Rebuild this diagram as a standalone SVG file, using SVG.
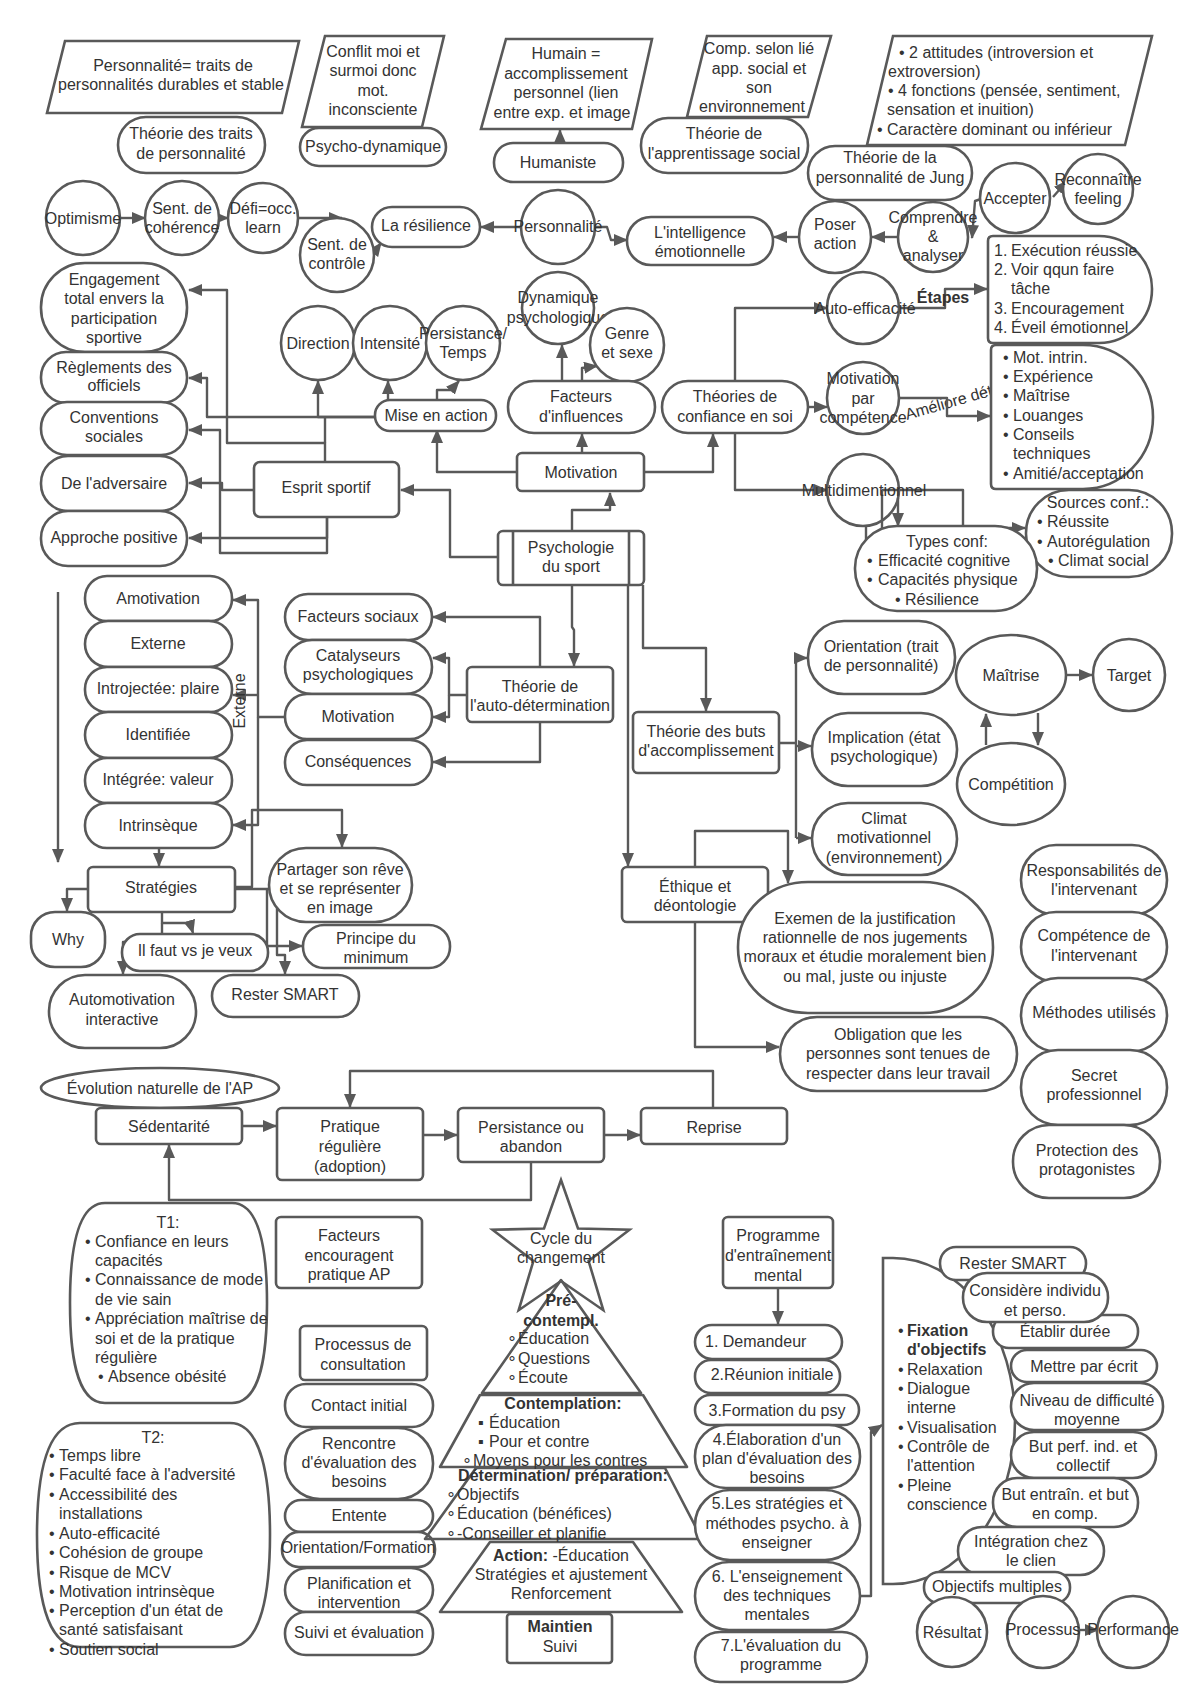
<svg xmlns="http://www.w3.org/2000/svg" width="1200" height="1697" viewBox="0 0 1200 1697">
<defs>
<style>
.s{fill:#fff;stroke:#595959;stroke-width:2.6}
.c{fill:none;stroke:#595959;stroke-width:2.4;stroke-linejoin:round}
.a{marker-end:url(#ah)}
text{font-family:"Liberation Sans",Arial,sans-serif;font-size:16px;fill:#333}
.m{text-anchor:middle}
.b{font-weight:bold}
</style>
<marker id="ah" markerWidth="14" markerHeight="12" refX="13" refY="6" orient="auto" markerUnits="userSpaceOnUse"><path d="M0,0 L14,6 L0,12 z" fill="#595959"/></marker>
</defs>
<rect width="1200" height="1697" fill="#fff"/>

<g id="connectors">
<path class="c a" d="M560,143 L560,130"/>
<path class="c a" d="M120,218 L145,218"/>
<path class="c a" d="M219,218 L228,218"/>
<path class="c a" d="M298,218 L342,218"/>
<path class="c a" d="M370,258 L381,243"/>
<path class="c a" d="M521,227 L481,227"/>
<path class="c a" d="M595,227 L607,227 L611,240 L627,240"/>
<path class="c a" d="M799,237 L774,237"/>
<path class="c a" d="M898,237 L872,237"/>
<path class="c a" d="M981,199 L975,201 L972,238"/>
<path class="c a" d="M1053,197 L1067,181"/>
<path class="c a" d="M735,381 L735,308 L827,308"/>
<path class="c a" d="M899,308 L945,308 L945,289 L987,289"/>
<text class="m b" x="943" y="303">Étapes</text>
<path class="c a" d="M808,407 L827,407"/>
<text x="907" y="420" transform="rotate(-16 907 420)">Améliore dét</text>
<path class="c a" d="M899,398 L947,398 L947,416 L990,416"/>
<path class="c a" d="M735,433 L735,490 L827,490"/>
<path class="c a" d="M882,490 L963,490 L963,528 L1025,528"/>
<path class="c a" d="M898,498 L898,526"/>
<path class="c" d="M866,526 L866,562 L882,562 L882,490"/>
<path class="c a" d="M517,472 L437,472 L437,430"/>
<path class="c a" d="M582,453 L582,434"/>
<path class="c a" d="M644,472 L713,472 L713,434"/>
<path class="c a" d="M562,381 L562,345"/>
<path class="c a" d="M582,381 L582,368 L597,366"/>
<path class="c a" d="M388,401 L388,381"/>
<path class="c a" d="M437,401 L437,390 L451,390 L459,381"/>
<path class="c a" d="M375,417 L318,417 L318,381"/>
<path class="c a" d="M375,417 L207,417 L207,378 L189,378"/>
<path class="c a" d="M325,462 L325,443 L227,443 L227,290 L189,290"/>
<path class="c" d="M325,443 L325,417"/>
<path class="c a" d="M254,490 L222,490 L222,483 L189,483"/>
<path class="c a" d="M327,517 L327,553 L220,553 L220,430 L189,430"/>
<path class="c a" d="M327,517 L327,538 L189,538"/>
<path class="c a" d="M572,531 L572,510 L610,510 L610,493"/>
<path class="c a" d="M498,557 L450,557 L450,490 L401,490"/>
<path class="c a" d="M572,585 L572,627 L574,630 L574,666"/>
<path class="c a" d="M643,585 L643,648 L706,648 L706,711"/>
<path class="c a" d="M628,585 L628,866"/>
<path class="c a" d="M540,667 L540,617 L433,617"/>
<path class="c a" d="M467,695 L449,695 L449,658 L433,658"/>
<path class="c a" d="M449,695 L449,717 L433,717"/>
<path class="c a" d="M540,722 L540,762 L433,762"/>
<path class="c a" d="M285,717 L258,717 L258,600 L233,600"/>
<path class="c a" d="M258,695 L233,695"/>
<path class="c a" d="M258,717 L258,825 L233,825"/>
<text class="m" x="0" y="0" transform="translate(245 701) rotate(-90)">Externe</text>
<path class="c a" d="M58,592 L58,862"/>
<path class="c a" d="M159,848 L159,866"/>
<path class="c a" d="M235,887 L252,887 L252,810 L342,810 L342,847"/>
<path class="c a" d="M88,889 L67,889 L67,911"/>
<path class="c a" d="M162,912 L162,923 L190,923 L193,933"/>
<path class="c a" d="M162,923 L162,942 L123,942 L123,974"/>
<path class="c a" d="M235,889 L267,889 L267,946 L302,946"/>
<path class="c a" d="M267,889 L277,889 L277,955 L285,955 L285,974"/>
<path class="c" d="M779,743 L796,743 M796,658 L796,838"/>
<path class="c a" d="M796,658 L807,658"/>
<path class="c a" d="M796,746 L811,746"/>
<path class="c a" d="M796,838 L811,838"/>
<path class="c a" d="M1066,675 L1092,675"/>
<path class="c a" d="M986,745 L986,714"/>
<path class="c a" d="M1038,713 L1038,745"/>
<path class="c a" d="M695,867 L695,831 L788,831 L788,883"/>
<path class="c a" d="M695,922 L695,1047 L779,1047"/>
<path class="c a" d="M242,1126 L276,1126"/>
<path class="c a" d="M423,1135 L457,1135"/>
<path class="c a" d="M604,1135 L640,1135"/>
<path class="c a" d="M713,1108 L713,1071 L350,1071 L350,1107"/>
<path class="c a" d="M531,1162 L531,1200 L169,1200 L169,1145"/>
<path class="c a" d="M778,1288 L778,1324"/>
<path class="c a" d="M860,1596 L871,1596 L871,1432 L882,1425"/>
<path class="c a" d="M1079,1630 L1098,1630"/>
</g>

<g id="n-perso-def"><polygon class="s" points="65,41 299,41 282,113 47,113"/><text class="m"><tspan x="173" y="71">Personnalité= traits de</tspan><tspan x="171" y="90">personnalités durables et stable</tspan></text></g>
<g id="n-traits"><rect class="s" x="118" y="117" width="147" height="56" rx="28"/><text class="m"><tspan x="191" y="139">Théorie des traits</tspan><tspan x="191" y="159">de personnalité</tspan></text></g>
<g id="n-conflit"><polygon class="s" points="325,36 444,36 422,127 302,127"/><text class="m"><tspan x="373" y="57">Conflit moi et</tspan><tspan x="373" y="76">surmoi donc</tspan><tspan x="373" y="96">mot.</tspan><tspan x="373" y="115">inconsciente</tspan></text></g>
<g id="n-psychodyn"><rect class="s" x="300" y="128" width="146" height="38" rx="19"/><text class="m" x="373" y="152">Psycho-dynamique</text></g>
<g id="n-humain"><polygon class="s" points="506,39 652,39 632,129 481,129"/><text class="m"><tspan x="566" y="59">Humain =</tspan><tspan x="566" y="79">accomplissement</tspan><tspan x="566" y="98">personnel (lien</tspan><tspan x="562" y="118">entre exp. et image</tspan></text></g>
<g id="n-humaniste"><rect class="s" x="494" y="143" width="129" height="39" rx="19"/><text class="m" x="558" y="168">Humaniste</text></g>
<g id="n-comp"><polygon class="s" points="707,36 831,36 808,117 687,117"/><text class="m"><tspan x="759" y="54">Comp. selon lié</tspan><tspan x="759" y="74">app. social et</tspan><tspan x="759" y="93">son</tspan><tspan x="752" y="112">environnement</tspan></text></g>
<g id="n-appsocial"><rect class="s" x="641" y="118" width="167" height="55" rx="27"/><text class="m"><tspan x="724" y="139">Théorie de</tspan><tspan x="724" y="159">l'apprentissage social</tspan></text></g>
<g id="n-jungpara"><polygon class="s" points="893,36 1152,36 1125,145 867,145"/><text><tspan x="899" y="58">• 2 attitudes (introversion et</tspan><tspan x="888" y="77">extroversion)</tspan><tspan x="888" y="96">• 4 fonctions (pensée, sentiment,</tspan><tspan x="887" y="115">sensation et inuition)</tspan><tspan x="877" y="135">• Caractère dominant  ou inférieur</tspan></text></g>
<g id="n-jung"><rect class="s" x="808" y="146" width="164" height="54" rx="27"/><text class="m"><tspan x="890" y="163">Théorie de la</tspan><tspan x="890" y="183">personnalité de Jung</tspan></text></g>
<g id="n-accepter"><circle class="s" cx="1015" cy="198" r="35"/><text class="m" x="1015" y="204">Accepter</text></g>
<g id="n-reconnaitre"><circle class="s" cx="1098" cy="189" r="35"/><text class="m"><tspan x="1098" y="185">Reconnaître</tspan><tspan x="1098" y="204">feeling</tspan></text></g>
<g id="n-comprendre"><circle class="s" cx="933" cy="237" r="35"/><text class="m"><tspan x="933" y="223">Comprendre</tspan><tspan x="933" y="242">&amp;</tspan><tspan x="933" y="261">analyser</tspan></text></g>
<g id="n-poser"><circle class="s" cx="835" cy="237" r="36"/><text class="m"><tspan x="835" y="230">Poser</tspan><tspan x="835" y="249">action</tspan></text></g>
<g id="n-intel"><rect class="s" x="627" y="217" width="146" height="48" rx="24"/><text class="m"><tspan x="700" y="238">L'intelligence</tspan><tspan x="700" y="257">émotionnelle</tspan></text></g>
<g id="n-personnalite"><circle class="s" cx="558" cy="227" r="37"/><text class="m" x="558" y="232">Personnalité</text></g>
<g id="n-resilience"><rect class="s" x="372" y="207" width="108" height="40" rx="20"/><text class="m" x="426" y="231">La résilience</text></g>
<g id="n-controle"><circle class="s" cx="337" cy="255" r="37"/><text class="m"><tspan x="337" y="250">Sent. de</tspan><tspan x="337" y="269">contrôle</tspan></text></g>
<g id="n-defi"><circle class="s" cx="263" cy="218" r="35"/><text class="m"><tspan x="263" y="214">Défi=occ.</tspan><tspan x="263" y="233">learn</tspan></text></g>
<g id="n-coherence"><circle class="s" cx="182" cy="218" r="37"/><text class="m"><tspan x="182" y="214">Sent. de</tspan><tspan x="182" y="233">cohérence</tspan></text></g>
<g id="n-optimisme"><circle class="s" cx="83" cy="218" r="37"/><text class="m" x="83" y="224">Optimisme</text></g>

<g id="n-engagement"><rect class="s" x="41" y="263" width="146" height="89" rx="44"/><text class="m"><tspan x="114" y="285">Engagement</tspan><tspan x="114" y="304">total envers la</tspan><tspan x="114" y="324">participation</tspan><tspan x="114" y="343">sportive</tspan></text></g>
<g id="n-reglements"><rect class="s" x="41" y="352" width="146" height="51" rx="25"/><text class="m"><tspan x="114" y="373">Règlements des</tspan><tspan x="114" y="391">officiels</tspan></text></g>
<g id="n-conventions"><rect class="s" x="41" y="402" width="146" height="53" rx="26"/><text class="m"><tspan x="114" y="423">Conventions</tspan><tspan x="114" y="442">sociales</tspan></text></g>
<g id="n-adversaire"><rect class="s" x="41" y="456" width="146" height="55" rx="27"/><text class="m" x="114" y="489">De l'adversaire</text></g>
<g id="n-approche"><rect class="s" x="41" y="511" width="146" height="55" rx="27"/><text class="m" x="114" y="543">Approche positive</text></g>
<g id="n-esprit"><rect class="s" x="254" y="462" width="145" height="55" rx="6"/><text class="m" x="326" y="493">Esprit sportif</text></g>

<g id="n-direction"><circle class="s" cx="318" cy="343" r="37"/><text class="m" x="318" y="349">Direction</text></g>
<g id="n-intensite"><circle class="s" cx="390" cy="343" r="37"/><text class="m" x="390" y="349">Intensité</text></g>
<g id="n-persistance"><circle class="s" cx="463" cy="343" r="37"/><text class="m"><tspan x="463" y="339">Persistance/</tspan><tspan x="463" y="358">Temps</tspan></text></g>
<g id="n-mise"><rect class="s" x="375" y="400" width="121" height="31" rx="15"/><text class="m" x="436" y="421">Mise en action</text></g>
<g id="n-dynamique"><circle class="s" cx="558" cy="308" r="36"/><text class="m"><tspan x="558" y="303">Dynamique</tspan><tspan x="558" y="323">psychologique</tspan></text></g>
<g id="n-genre"><circle class="s" cx="627" cy="345" r="37"/><text class="m"><tspan x="627" y="339">Genre</tspan><tspan x="627" y="358">et sexe</tspan></text></g>
<g id="n-facteurs-infl"><rect class="s" x="508" y="381" width="147" height="52" rx="26"/><text class="m"><tspan x="581" y="402">Facteurs</tspan><tspan x="581" y="422">d'influences</tspan></text></g>
<g id="n-theories-conf"><rect class="s" x="662" y="381" width="146" height="52" rx="26"/><text class="m"><tspan x="735" y="402">Théories de</tspan><tspan x="735" y="422">confiance en soi</tspan></text></g>
<g id="n-autoeff"><circle class="s" cx="863" cy="308" r="36"/><text class="m" x="865" y="314">Auto-efficacité</text></g>
<g id="n-etapes"><path class="s" d="M993 236 H1099 A53 53 0 0 1 1152 289 A53 54 0 0 1 1099 343 H993 Q988 343 988 338 V241 Q988 236 993 236 Z"/><text><tspan x="994" y="256">1.</tspan><tspan x="1011" y="256">Exécution réussie</tspan><tspan x="994" y="275">2.</tspan><tspan x="1011" y="275">Voir qqun faire</tspan><tspan x="1011" y="294">tâche</tspan><tspan x="994" y="314">3.</tspan><tspan x="1011" y="314">Encouragement</tspan><tspan x="994" y="333">4.</tspan><tspan x="1011" y="333">Éveil émotionnel</tspan></text></g>
<g id="n-sources-list"><path class="s" d="M996 345 H1083 A70 72 0 0 1 1153 417 A70 72 0 0 1 1083 489 H996 Q991 489 991 484 V350 Q991 345 996 345 Z"/><text><tspan x="1003" y="363">•</tspan><tspan x="1013" y="363">Mot. intrin.</tspan><tspan x="1003" y="382">•</tspan><tspan x="1013" y="382">Expérience</tspan><tspan x="1003" y="401">•</tspan><tspan x="1013" y="401">Maîtrise</tspan><tspan x="1003" y="421">•</tspan><tspan x="1013" y="421">Louanges</tspan><tspan x="1003" y="440">•</tspan><tspan x="1013" y="440">Conseils</tspan><tspan x="1013" y="459">techniques</tspan><tspan x="1003" y="479">•</tspan><tspan x="1013" y="479">Amitié/acceptation</tspan></text></g>
<g id="n-motcomp"><circle class="s" cx="863" cy="398" r="36"/><text class="m"><tspan x="863" y="384">Motivation</tspan><tspan x="863" y="404">par</tspan><tspan x="863" y="423">compétence</tspan></text></g>
<g id="n-multi"><circle class="s" cx="863" cy="490" r="36" style="fill:none"/><text class="m" x="864" y="496">Multidimentionnel</text></g>
<g id="n-sources"><rect class="s" x="1026" y="490" width="146" height="87" rx="43"/><text><tspan x="1098" y="508" text-anchor="middle">Sources conf.:</tspan><tspan x="1037" y="527">•</tspan><tspan x="1047" y="527">Réussite</tspan><tspan x="1037" y="547">•</tspan><tspan x="1047" y="547">Autorégulation</tspan><tspan x="1048" y="566">•</tspan><tspan x="1058" y="566">Climat social</tspan></text></g>
<g id="n-types"><rect class="s" x="855" y="526" width="182" height="85" rx="42"/><text class="m" x="947" y="547">Types conf:</text><text><tspan x="867" y="566">•</tspan><tspan x="878" y="566">Efficacité cognitive</tspan><tspan x="867" y="585">•</tspan><tspan x="878" y="585">Capacités physique</tspan><tspan x="895" y="605">•</tspan><tspan x="905" y="605">Résilience</tspan></text></g>

<g id="n-motivation"><rect class="s" x="517" y="453" width="127" height="38" rx="5"/><text class="m" x="581" y="478">Motivation</text></g>
<g id="n-psycho"><rect class="s" x="498" y="531" width="146" height="54" rx="5"/><line class="s" x1="513" y1="531" x2="513" y2="585"/><line class="s" x1="629" y1="531" x2="629" y2="585"/><text class="m"><tspan x="571" y="553">Psychologie</tspan><tspan x="571" y="572">du sport</tspan></text></g>
<g id="n-autodet"><rect class="s" x="467" y="667" width="146" height="55" rx="5"/><text class="m"><tspan x="540" y="692">Théorie de</tspan><tspan x="540" y="711">l'auto-détermination</tspan></text></g>
<g id="n-fsociaux"><rect class="s" x="285" y="594" width="147" height="46" rx="23"/><text class="m" x="358" y="622">Facteurs sociaux</text></g>
<g id="n-catalyseurs"><rect class="s" x="285" y="640" width="147" height="54" rx="27"/><text class="m"><tspan x="358" y="661">Catalyseurs</tspan><tspan x="358" y="680">psychologiques</tspan></text></g>
<g id="n-motsdt"><rect class="s" x="285" y="694" width="147" height="45" rx="22"/><text class="m" x="358" y="722">Motivation</text></g>
<g id="n-consequences"><rect class="s" x="285" y="740" width="147" height="45" rx="22"/><text class="m" x="358" y="767">Conséquences</text></g>
<g id="n-amotivation"><rect class="s" x="85" y="576" width="147" height="45" rx="22"/><text class="m" x="158" y="604">Amotivation</text></g>
<g id="n-externe"><rect class="s" x="85" y="621" width="147" height="46" rx="23"/><text class="m" x="158" y="649">Externe</text></g>
<g id="n-introjectee"><rect class="s" x="85" y="667" width="147" height="45" rx="22"/><text class="m" x="158" y="694">Introjectée: plaire</text></g>
<g id="n-identifiee"><rect class="s" x="85" y="712" width="147" height="46" rx="23"/><text class="m" x="158" y="740">Identifiée</text></g>
<g id="n-integree"><rect class="s" x="85" y="758" width="147" height="45" rx="22"/><text class="m" x="158" y="785">Intégrée: valeur</text></g>
<g id="n-intrinseque"><rect class="s" x="85" y="803" width="147" height="45" rx="22"/><text class="m" x="158" y="831">Intrinsèque</text></g>
<g id="n-strategies"><rect class="s" x="88" y="867" width="147" height="45" rx="5"/><text class="m" x="161" y="893">Stratégies</text></g>
<g id="n-partager"><rect class="s" x="269" y="848" width="143" height="74" rx="37"/><text class="m"><tspan x="340" y="875">Partager son rêve</tspan><tspan x="340" y="894">et se représenter</tspan><tspan x="340" y="913">en image</tspan></text></g>
<g id="n-why"><rect class="s" x="31" y="912" width="74" height="55" rx="24"/><text class="m" x="68" y="945">Why</text></g>
<g id="n-ilfaut"><rect class="s" x="122" y="934" width="146" height="37" rx="18"/><text class="m" x="195" y="956">Il faut vs je veux</text></g>
<g id="n-automot"><rect class="s" x="49" y="975" width="147" height="73" rx="36"/><text class="m"><tspan x="122" y="1005">Automotivation</tspan><tspan x="122" y="1025">interactive</tspan></text></g>
<g id="n-principe"><rect class="s" x="303" y="925" width="147" height="43" rx="21"/><text class="m"><tspan x="376" y="944">Principe du</tspan><tspan x="376" y="963">minimum</tspan></text></g>
<g id="n-smart1"><rect class="s" x="212" y="975" width="147" height="42" rx="21"/><text class="m" x="285" y="1000">Rester SMART</text></g>

<g id="n-buts"><rect class="s" x="633" y="712" width="146" height="61" rx="5"/><text class="m"><tspan x="706" y="737">Théorie des buts</tspan><tspan x="706" y="756">d'accomplissement</tspan></text></g>
<g id="n-orientation"><rect class="s" x="808" y="621" width="147" height="73" rx="36"/><text class="m"><tspan x="881" y="652">Orientation (trait</tspan><tspan x="881" y="671">de personnalité)</tspan></text></g>
<g id="n-implication"><rect class="s" x="812" y="713" width="145" height="73" rx="36"/><text class="m"><tspan x="884" y="743">Implication (état</tspan><tspan x="884" y="762">psychologique)</tspan></text></g>
<g id="n-climat"><rect class="s" x="812" y="803" width="145" height="72" rx="36"/><text class="m"><tspan x="884" y="824">Climat</tspan><tspan x="884" y="843">motivationnel</tspan><tspan x="884" y="863">(environnement)</tspan></text></g>
<g id="n-maitrise"><ellipse class="s" cx="1011" cy="675" rx="55" ry="40"/><text class="m" x="1011" y="681">Maîtrise</text></g>
<g id="n-target"><circle class="s" cx="1129" cy="675" r="36"/><text class="m" x="1129" y="681">Target</text></g>
<g id="n-competition"><ellipse class="s" cx="1011" cy="784" rx="54" ry="41"/><text class="m" x="1011" y="790">Compétition</text></g>
<g id="n-ethique"><rect class="s" x="622" y="867" width="146" height="55" rx="5"/><text class="m"><tspan x="695" y="892">Éthique et</tspan><tspan x="695" y="911">déontologie</tspan></text></g>
<g id="n-exemen"><rect class="s" x="738" y="882" width="255" height="131" rx="70" ry="65"/><text class="m"><tspan x="865" y="924">Exemen de la justification</tspan><tspan x="865" y="943">rationnelle de nos jugements</tspan><tspan x="865" y="962">moraux et étudie moralement bien</tspan><tspan x="865" y="982">ou mal, juste ou injuste</tspan></text></g>
<g id="n-obligation"><rect class="s" x="780" y="1017" width="237" height="74" rx="37"/><text class="m"><tspan x="898" y="1040">Obligation que les</tspan><tspan x="898" y="1059">personnes sont tenues de</tspan><tspan x="898" y="1079">respecter dans leur travail</tspan></text></g>
<g id="n-resp"><rect class="s" x="1021" y="845" width="146" height="70" rx="35"/><text class="m"><tspan x="1094" y="876">Responsabilités de</tspan><tspan x="1094" y="895">l'intervenant</tspan></text></g>
<g id="n-competence"><rect class="s" x="1021" y="912" width="146" height="70" rx="35"/><text class="m"><tspan x="1094" y="941">Compétence de</tspan><tspan x="1094" y="961">l'intervenant</tspan></text></g>
<g id="n-methodes"><rect class="s" x="1021" y="978" width="146" height="74" rx="37"/><text class="m" x="1094" y="1018">Méthodes utilisés</text></g>
<g id="n-secret"><rect class="s" x="1021" y="1050" width="146" height="75" rx="37"/><text class="m"><tspan x="1094" y="1081">Secret</tspan><tspan x="1094" y="1100">professionnel</tspan></text></g>
<g id="n-protection"><rect class="s" x="1013" y="1125" width="147" height="73" rx="36"/><text class="m"><tspan x="1087" y="1156">Protection des</tspan><tspan x="1087" y="1175">protagonistes</tspan></text></g>

<g id="n-evolution"><ellipse class="s" cx="160" cy="1088" rx="119" ry="20"/><text class="m" x="160" y="1094">Évolution naturelle de l'AP</text></g>
<g id="n-sedentarite"><rect class="s" x="96" y="1108" width="146" height="36" rx="5"/><text class="m" x="169" y="1132">Sédentarité</text></g>
<g id="n-pratique"><rect class="s" x="277" y="1108" width="146" height="72" rx="5"/><text class="m"><tspan x="350" y="1132">Pratique</tspan><tspan x="350" y="1152">régulière</tspan><tspan x="350" y="1172">(adoption)</tspan></text></g>
<g id="n-persist-ab"><rect class="s" x="458" y="1108" width="146" height="54" rx="5"/><text class="m"><tspan x="531" y="1133">Persistance ou</tspan><tspan x="531" y="1152">abandon</tspan></text></g>
<g id="n-reprise"><rect class="s" x="641" y="1108" width="146" height="36" rx="5"/><text class="m" x="714" y="1133">Reprise</text></g>

<g id="n-t1"><path class="s" d="M105 1203 H232 C262 1203 267 1260 267 1303 C267 1350 262 1403 232 1403 H105 C75 1403 70 1350 70 1303 C70 1260 75 1203 105 1203 Z"/><text class="m" x="168" y="1228">T1:</text><text><tspan x="85" y="1247">•</tspan><tspan x="95" y="1247">Confiance en leurs</tspan><tspan x="95" y="1266">capacités</tspan><tspan x="85" y="1285">•</tspan><tspan x="95" y="1285">Connaissance de mode</tspan><tspan x="95" y="1305">de vie sain</tspan><tspan x="85" y="1324">•</tspan><tspan x="95" y="1324">Appréciation maîtrise de</tspan><tspan x="95" y="1344">soi et de la pratique</tspan><tspan x="95" y="1363">régulière</tspan><tspan x="98" y="1382">•</tspan><tspan x="108" y="1382">Absence obésité</tspan></text></g>
<g id="n-t2"><path class="s" d="M80 1423 H230 C262 1423 270 1480 270 1535 C270 1590 262 1647 230 1647 H80 C45 1647 37 1590 37 1535 C37 1480 45 1423 80 1423 Z"/><text class="m" x="153" y="1443">T2:</text><text><tspan x="49" y="1461">•</tspan><tspan x="59" y="1461">Temps libre</tspan><tspan x="49" y="1480">•</tspan><tspan x="59" y="1480">Faculté face à l'adversité</tspan><tspan x="49" y="1500">•</tspan><tspan x="59" y="1500">Accessibilité des</tspan><tspan x="59" y="1519">installations</tspan><tspan x="49" y="1539">•</tspan><tspan x="59" y="1539">Auto-efficacité</tspan><tspan x="49" y="1558">•</tspan><tspan x="59" y="1558">Cohésion de groupe</tspan><tspan x="49" y="1578">•</tspan><tspan x="59" y="1578">Risque de MCV</tspan><tspan x="49" y="1597">•</tspan><tspan x="59" y="1597">Motivation intrinsèque</tspan><tspan x="49" y="1616">•</tspan><tspan x="59" y="1616">Perception d'un état de</tspan><tspan x="59" y="1635">santé satisfaisant</tspan><tspan x="49" y="1655">•</tspan><tspan x="59" y="1655">Soutien social</tspan></text></g>
<g id="n-facteurs-ap"><rect class="s" x="276" y="1217" width="146" height="71" rx="5"/><text class="m"><tspan x="349" y="1241">Facteurs</tspan><tspan x="349" y="1261">encouragent</tspan><tspan x="349" y="1280">pratique AP</tspan></text></g>
<g id="n-processus-consult"><rect class="s" x="300" y="1326" width="127" height="54" rx="5"/><text class="m"><tspan x="363" y="1350">Processus de</tspan><tspan x="363" y="1370">consultation</tspan></text></g>
<g id="n-contact"><rect class="s" x="285" y="1384" width="148" height="43" rx="21"/><text class="m" x="359" y="1411">Contact initial</text></g>
<g id="n-rencontre"><rect class="s" x="285" y="1428" width="148" height="71" rx="35"/><text class="m"><tspan x="359" y="1449">Rencontre</tspan><tspan x="359" y="1468">d'évaluation des</tspan><tspan x="359" y="1487">besoins</tspan></text></g>
<g id="n-entente"><rect class="s" x="285" y="1500" width="148" height="32" rx="16"/><text class="m" x="359" y="1521">Entente</text></g>
<g id="n-orientform"><rect class="s" x="282" y="1532" width="153" height="35" rx="17"/><text class="m" x="358" y="1553">Orientation/Formation</text></g>
<g id="n-planif"><rect class="s" x="285" y="1568" width="148" height="44" rx="22"/><text class="m"><tspan x="359" y="1589">Planification et</tspan><tspan x="359" y="1608">intervention</tspan></text></g>
<g id="n-suivi"><rect class="s" x="285" y="1612" width="148" height="43" rx="21"/><text class="m" x="359" y="1638">Suivi et évaluation</text></g>

<g id="n-cycle"><polygon class="s" points="561,1180 578,1228.5 629.5,1229.8 588.6,1261 603.3,1310.2 561,1281 518.7,1310.2 533.4,1261 492.5,1229.8 544,1228.5"/><text class="m"><tspan x="561" y="1244">Cycle du</tspan><tspan x="561" y="1263">changement</tspan></text></g>
<g id="n-pyramide">
<path class="c" style="stroke-width:2.6" d="M561,1280 L641,1393 L482,1393 Z"/>
<path class="c" style="stroke-width:2.6" d="M480,1395 L643,1395 L687,1467 L440,1467 Z"/>
<path class="c" style="stroke-width:2.6" d="M476,1468 L665,1468 L702,1539 L425,1539 Z"/>
<path class="c" style="stroke-width:2.6" d="M490,1542 L633,1542 L682,1612 L440,1612 Z"/>
<rect class="s" x="507" y="1614" width="105" height="49" rx="3"/>
<text class="m b"><tspan x="561" y="1306">Pré-</tspan><tspan x="561" y="1326">contempl.</tspan></text>
<text><tspan x="507" y="1344">∘</tspan><tspan x="518" y="1344">Éducation</tspan><tspan x="507" y="1364">∘</tspan><tspan x="518" y="1364">Questions</tspan><tspan x="507" y="1383">∘</tspan><tspan x="518" y="1383">Écoute</tspan></text>
<text class="m b" x="563" y="1409">Contemplation:</text>
<text><tspan x="478" y="1428">▪</tspan><tspan x="489" y="1428">Éducation</tspan><tspan x="478" y="1447">▪</tspan><tspan x="489" y="1447">Pour et contre</tspan><tspan x="462" y="1466">∘</tspan><tspan x="473" y="1466">Moyens pour les contres</tspan></text>
<text class="m b" x="563" y="1481">Détermination/ préparation:</text>
<text><tspan x="446" y="1500">∘</tspan><tspan x="457" y="1500">Objectifs</tspan><tspan x="446" y="1519">∘</tspan><tspan x="457" y="1519">Éducation (bénéfices)</tspan><tspan x="446" y="1539">∘</tspan><tspan x="457" y="1539">-Conseiller et planifie</tspan></text>
<text class="m" x="561" y="1561"><tspan class="b">Action:</tspan> -Éducation</text>
<text class="m"><tspan x="561" y="1580">Stratégies et ajustement</tspan><tspan x="561" y="1599">Renforcement</tspan></text>
<text class="m"><tspan class="b" x="560" y="1632">Maintien</tspan><tspan x="560" y="1652">Suivi</tspan></text>
</g>

<g id="n-programme"><rect class="s" x="723" y="1217" width="110" height="71" rx="5"/><text class="m"><tspan x="778" y="1241">Programme</tspan><tspan x="778" y="1261">d'entraînement</tspan><tspan x="778" y="1281">mental</tspan></text></g>
<g id="n-p1"><rect class="s" x="695" y="1325" width="147" height="34" rx="17"/><text x="705" y="1347">1. Demandeur</text></g>
<g id="n-p2"><rect class="s" x="695" y="1360" width="145" height="33" rx="16"/><text class="m" x="772" y="1380">2.Réunion initiale</text></g>
<g id="n-p3"><rect class="s" x="695" y="1395" width="164" height="30" rx="15"/><text class="m" x="777" y="1416">3.Formation du psy</text></g>
<g id="n-p4"><rect class="s" x="695" y="1425" width="165" height="63" rx="31"/><text class="m"><tspan x="777" y="1445">4.Élaboration d'un</tspan><tspan x="777" y="1464">plan d'évaluation des</tspan><tspan x="777" y="1483">besoins</tspan></text></g>
<g id="n-p5"><rect class="s" x="695" y="1490" width="165" height="70" rx="35"/><text class="m"><tspan x="777" y="1509">5.Les stratégies et</tspan><tspan x="777" y="1529">méthodes psycho. à</tspan><tspan x="777" y="1548">enseigner</tspan></text></g>
<g id="n-p6"><rect class="s" x="695" y="1562" width="165" height="68" rx="34"/><text class="m"><tspan x="777" y="1582">6. L'enseignement</tspan><tspan x="777" y="1601">des techniques</tspan><tspan x="777" y="1620">mentales</tspan></text></g>
<g id="n-p7"><rect class="s" x="695" y="1632" width="172" height="50" rx="25"/><text class="m"><tspan x="781" y="1651">7.L'évaluation du</tspan><tspan x="781" y="1670">programme</tspan></text></g>

<g id="n-fixation"><path class="s" d="M883 1258 H893 A122 163 0 0 1 893 1584 H883 Z"/><text><tspan x="898" y="1336">•</tspan><tspan class="b" x="907" y="1336">Fixation</tspan><tspan class="b" x="907" y="1355">d'objectifs</tspan><tspan x="898" y="1375">•</tspan><tspan x="907" y="1375">Relaxation</tspan><tspan x="898" y="1394">•</tspan><tspan x="907" y="1394">Dialogue</tspan><tspan x="907" y="1413">interne</tspan><tspan x="898" y="1433">•</tspan><tspan x="907" y="1433">Visualisation</tspan><tspan x="898" y="1452">•</tspan><tspan x="907" y="1452">Contrôle de</tspan><tspan x="907" y="1471">l'attention</tspan><tspan x="898" y="1491">•</tspan><tspan x="907" y="1491">Pleine</tspan><tspan x="907" y="1510">conscience</tspan></text></g>
<g id="n-smart2"><rect class="s" x="940" y="1247" width="146" height="33" rx="16"/><text class="m" x="1013" y="1269">Rester SMART</text></g>
<g id="n-duree"><rect class="s" x="993" y="1315" width="145" height="33" rx="16"/><text class="m" x="1065" y="1337">Établir durée</text></g>
<g id="n-considere"><rect class="s" x="963" y="1273" width="145" height="49" rx="24"/><text class="m"><tspan x="1035" y="1296">Considère individu</tspan><tspan x="1035" y="1316">et perso.</tspan></text></g>
<g id="n-ecrit"><rect class="s" x="1011" y="1350" width="146" height="32" rx="16"/><text class="m" x="1084" y="1372">Mettre par écrit</text></g>
<g id="n-niveau"><rect class="s" x="1011" y="1383" width="152" height="47" rx="23"/><text class="m"><tspan x="1087" y="1406">Niveau de difficulté</tspan><tspan x="1087" y="1425">moyenne</tspan></text></g>
<g id="n-butperf"><rect class="s" x="1011" y="1432" width="145" height="46" rx="23"/><text class="m"><tspan x="1083" y="1452">But perf. ind. et</tspan><tspan x="1083" y="1471">collectif</tspan></text></g>
<g id="n-butentr"><rect class="s" x="993" y="1478" width="145" height="49" rx="24"/><text class="m"><tspan x="1065" y="1500">But entraîn. et but</tspan><tspan x="1065" y="1519">en comp.</tspan></text></g>
<g id="n-integration"><rect class="s" x="958" y="1527" width="146" height="48" rx="24"/><text class="m"><tspan x="1031" y="1547">Intégration chez</tspan><tspan x="1031" y="1566">le clien</tspan></text></g>
<g id="n-objmult"><rect class="s" x="924" y="1572" width="146" height="31" rx="15"/><text class="m" x="997" y="1592">Objectifs multiples</text></g>
<g id="n-resultat"><circle class="s" cx="952" cy="1632" r="35"/><text class="m" x="952" y="1638">Résultat</text></g>
<g id="n-processus"><circle class="s" cx="1043" cy="1632" r="36"/><text class="m" x="1043" y="1635">Processus</text></g>
<g id="n-performance"><circle class="s" cx="1133" cy="1632" r="36"/><text class="m" x="1133" y="1635">Performance</text></g>
</svg>
